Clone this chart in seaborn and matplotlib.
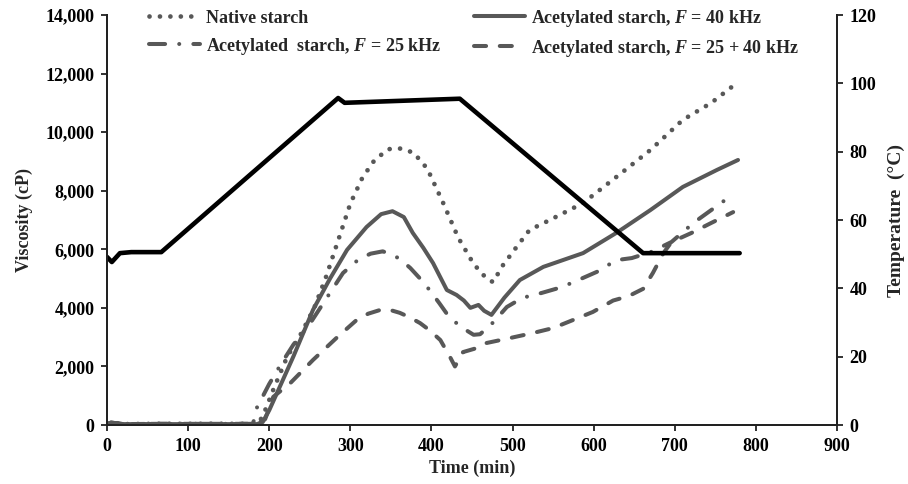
import matplotlib
matplotlib.use("Agg")
import matplotlib.pyplot as plt
import matplotlib.ticker as mticker
import seaborn as sns
import pandas as pd

# -------------------------------
# Data
# -------------------------------
native_t = [0, 5, 12, 20, 60, 120, 180, 188, 195, 205, 222, 240, 256, 270, 285, 300,
            315, 330, 347, 362, 378, 395, 415, 433, 452, 468, 476, 488, 505, 521, 546, 587,
            628, 670, 710, 745, 778]
native_v = [30, 80, 60, 30, 40, 40, 40, 100, 500, 1200, 2320, 3150, 4030, 5050, 6300, 7560,
            8450, 9050, 9420, 9440, 9300, 8750, 7550, 6400, 5500, 5000, 4880, 5450, 6080, 6660, 7000, 7580,
            8470, 9390, 10420, 11000, 11710]

f40_t = [0, 5, 12, 20, 60, 120, 185, 192, 200, 213, 230, 254, 275, 296, 320, 338, 352, 366,
         377, 390, 402, 419, 431, 440, 448, 458, 465, 474, 490, 509, 538, 587, 628, 670, 710, 752, 778]
f40_v = [30, 80, 60, 30, 30, 30, 30, 100, 500, 1300, 2350, 3930, 5000, 5980, 6760, 7200, 7300, 7100,
         6560, 6050, 5530, 4610, 4440, 4250, 4000, 4100, 3900, 3760, 4350, 4950, 5400, 5870, 6560, 7340,
         8130, 8710, 9050]

f25_t = [0, 5, 12, 20, 60, 120, 180, 185, 200, 215, 230, 250, 270, 291, 310, 325, 340, 353, 362,
         374, 386, 398, 410, 420, 432, 445, 452, 460, 468, 476, 493, 512, 536, 561, 581, 604, 628, 647,
         670, 696, 723, 762]
f25_v = [30, 80, 60, 30, 40, 40, 40, 600, 1400, 2100, 2750, 3450, 4300, 5190, 5650, 5850, 5930, 5800,
         5650, 5360, 5000, 4600, 4150, 3760, 3450, 3200, 3080, 3100, 3300, 3500, 4030, 4340, 4510, 4710,
         4950, 5230, 5630, 5700, 5900, 6250, 6900, 7680]

f2540_t = [0, 5, 12, 20, 60, 120, 185, 195, 205, 226, 254, 284, 308, 322, 337, 350, 361, 373, 386,
           398, 411, 423, 429, 439, 460, 468, 497, 525, 550, 575, 599, 624, 643, 661, 673, 686, 696,
           720, 745, 772]
f2540_v = [30, 80, 60, 30, 40, 40, 40, 200, 960, 1430, 2220, 3000, 3590, 3800, 3930, 3920, 3830, 3680,
           3480, 3230, 2900, 2320, 2000, 2490, 2660, 2800, 2970, 3140, 3310, 3590, 3860, 4250, 4400,
           4650, 5190, 5870, 6250, 6550, 6900, 7270]

temp_t = [0, 6, 16, 30, 67, 285, 293, 435, 661, 780]
temp_c = [49.2, 47.7, 50.3, 50.6, 50.6, 95.7, 94.3, 95.5, 50.3, 50.3]

labels = ["Native starch",
          "Acetylated  starch, $F$ = 25 kHz",
          "Acetylated starch, $F$ = 40 kHz",
          "Acetylated starch, $F$ = 25 + 40 kHz"]

# -------------------------------
# Style
# -------------------------------
sns.set_theme(style="ticks")
plt.rcParams["font.family"] = ["Liberation Serif", "DejaVu Serif"]
plt.rcParams["font.weight"] = "bold"
plt.rcParams["mathtext.fontset"] = "custom"
plt.rcParams["mathtext.it"] = "Liberation Serif:italic:bold"
plt.rcParams["mathtext.rm"] = "Liberation Serif:bold"

gray = "#585858"

fig = plt.figure(figsize=(9.08, 4.84), dpi=100)
ax = fig.add_axes([0.1178, 0.1219, 0.8040, 0.8471])
ax2 = ax.twinx()

series = [
    (native_t, native_v, labels[0], (0, (0.01, 2.2)), 3.4),
    (f25_t, f25_v, labels[1], (0, (4, 3.5, 0.01, 3.5)), 2.9),
    (f40_t, f40_v, labels[2], "-", 2.9),
    (f2540_t, f2540_v, labels[3], (0, (3, 3.4)), 2.9),
]
for t, v, lab, ls, w in series:
    df = pd.DataFrame({"time": t, "visc": v})
    sns.lineplot(data=df, x="time", y="visc", ax=ax, color=gray, linewidth=w,
                 linestyle=ls, label=lab, dash_capstyle="round", solid_capstyle="round",
                 solid_joinstyle="round")

temp_df = pd.DataFrame({"time": temp_t, "temp": temp_c})
sns.lineplot(data=temp_df, x="time", y="temp", ax=ax2, color="black", linewidth=3.3,
             legend=False, solid_capstyle="round")

# -------------------------------
# Axes
# -------------------------------
ax.set_xlim(0, 900)
ax.set_ylim(0, 14000)
ax2.set_ylim(0, 120)
ax.set_xticks(range(0, 901, 100))
ax.set_yticks(range(0, 14001, 2000))
ax2.set_yticks(range(0, 121, 20))
ax.yaxis.set_major_formatter(mticker.StrMethodFormatter("{x:,.0f}"))

for a in (ax, ax2):
    a.spines["top"].set_visible(False)
    for s in a.spines.values():
        s.set_linewidth(1.4)
        s.set_color("#222222")
    a.tick_params(direction="out", length=4, width=1.3, labelsize=13, pad=5,
                  colors="#222222", labelcolor="black")
    for lbl in a.get_xticklabels() + a.get_yticklabels():
        lbl.set_fontweight("bold")

ax.set_xlabel("Time (min)", fontsize=13, fontweight="bold", labelpad=4)
ax.set_ylabel("Viscosity (cP)", fontsize=13, fontweight="bold", labelpad=9)
ax2.set_ylabel("Temperature  (°C)", fontsize=14, fontweight="bold", labelpad=8)

leg = ax.legend(loc="upper center", bbox_to_anchor=(0.503, 1.018), ncol=2, frameon=False,
                fontsize=13, handlelength=2.8, handletextpad=0.35, columnspacing=1.8,
                labelspacing=0.5, borderaxespad=0, borderpad=0)

fig.savefig("out.png", dpi=100)
